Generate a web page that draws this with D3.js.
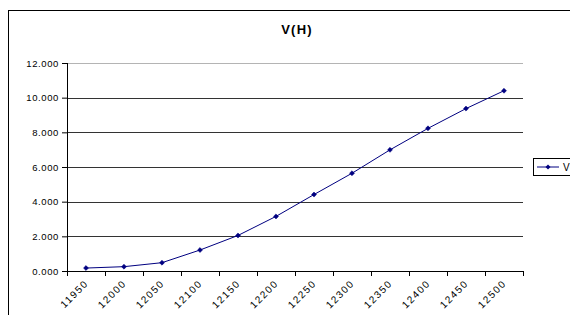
<!DOCTYPE html>
<html lang="en">
<head>
    <meta charset="UTF-8">
    <title>V(H)</title>
    <script src="https://cdn.jsdelivr.net/npm/d3@7"></script>
    <style>
        body { margin: 0; background: #fff; }
        text { font-family: Arial, "Liberation Sans", sans-serif; }
    </style>
</head>
<body>
    <svg width="570" height="315" id="mainsvg"></svg>
    <script>
        // data
        const heights = ['11950', '12000', '12050', '12100', '12150', '12200', '12250', '12300', '12350', '12400', '12450', '12500'];
        const volumes = [0.17, 0.25, 0.48, 1.21, 2.05, 3.15, 4.41, 5.64, 6.99, 8.23, 9.37, 10.40];
        const yTicks = [0, 2, 4, 6, 8, 10, 12];
        const title = 'V(H)';
        const seriesName = 'V(H)';

        const svg = d3.select('#mainsvg');
        const margin = { top: 63, left: 67, right: 47, bottom: 44 };
        const width = +svg.attr('width');
        const height = +svg.attr('height');
        const innerWidth = width - margin.left - margin.right;
        const innerHeight = height - margin.top - margin.bottom;
        const navy = '#000080';

        // chart frame
        svg.append('rect')
            .attr('x', 8.5).attr('y', 10.5)
            .attr('width', 600).attr('height', 400)
            .attr('fill', '#fff').attr('stroke', '#000');

        svg.append('text').text(title)
            .attr('x', 297).attr('y', 34)
            .attr('text-anchor', 'middle')
            .attr('font-weight', 'bold')
            .attr('font-size', '13px')
            .attr('letter-spacing', '1.2px');

        const g = svg.append('g')
            .attr('transform', `translate(${margin.left},${margin.top})`);

        const xScale = d3.scaleBand()
            .domain(heights)
            .range([0, innerWidth]);
        const yScale = d3.scaleLinear()
            .domain([0, 12])
            .range([innerHeight, 0]);

        // gridlines
        g.selectAll('.grid').data(yTicks.filter(d => d > 0)).enter()
            .append('line')
            .attr('x1', 0).attr('x2', innerWidth)
            .attr('y1', d => Math.round(yScale(d)) + 0.5)
            .attr('y2', d => Math.round(yScale(d)) + 0.5)
            .attr('stroke', d => d === 12 ? '#b4b4b4' : '#333')
            .attr('stroke-width', 1.2);

        // y axis
        const yAxis = d3.axisLeft(yScale)
            .tickValues(yTicks)
            .tickSize(5)
            .tickPadding(3)
            .tickFormat(d3.format('.3f'));
        const yg = g.append('g').call(yAxis);
        yg.select('.domain').attr('stroke', '#000').attr('d', `M0.5,0V${innerHeight}`);
        yg.selectAll('.tick line').attr('stroke', '#000');
        yg.selectAll('.tick text')
            .attr('font-size', '9.5px')
            .attr('letter-spacing', '0.6px')
            .attr('fill', '#000')
            .attr('font-family', 'Arial, "Liberation Sans", sans-serif');

        // x axis, ticks at category boundaries
        const xg = g.append('g').attr('transform', `translate(0,${innerHeight})`);
        xg.append('line')
            .attr('x1', 0).attr('x2', innerWidth)
            .attr('y1', 0.5).attr('y2', 0.5)
            .attr('stroke', '#000');
        const bounds = heights.map(d => xScale(d)).concat([innerWidth]);
        xg.selectAll('.xtick').data(bounds).enter()
            .append('line')
            .attr('x1', d => Math.round(d) + 0.5).attr('x2', d => Math.round(d) + 0.5)
            .attr('y1', 0).attr('y2', 5)
            .attr('stroke', '#000');
        xg.selectAll('.xlabel').data(heights).enter()
            .append('text')
            .text(d => d)
            .attr('font-size', '10px')
            .attr('letter-spacing', '1.5px')
            .attr('text-anchor', 'end')
            .attr('transform', d => `translate(${xScale(d) + xScale.bandwidth() / 2 + 3},${13}) rotate(-45)`);

        // series
        const line = d3.line()
            .x((d, i) => xScale(heights[i]) + xScale.bandwidth() / 2)
            .y(d => yScale(d));
        g.append('path')
            .datum(volumes)
            .attr('d', line)
            .attr('fill', 'none')
            .attr('stroke', navy)
            .attr('stroke-width', 1);
        const diamond = d3.symbol().type(d3.symbolDiamond2).size(16);
        g.selectAll('.pt').data(volumes).enter()
            .append('path')
            .attr('d', diamond)
            .attr('fill', navy)
            .attr('stroke', navy)
            .attr('stroke-width', 0.5)
            .attr('transform', (d, i) => `translate(${xScale(heights[i]) + xScale.bandwidth() / 2},${yScale(d)})`);

        // legend, cut by the right edge
        const lg = svg.append('g').attr('transform', 'translate(533,158)');
        lg.append('rect')
            .attr('x', 0.5).attr('y', 0.5)
            .attr('width', 120).attr('height', 17)
            .attr('fill', '#fff').attr('stroke', '#000');
        lg.append('line')
            .attr('x1', 4).attr('x2', 26)
            .attr('y1', 9).attr('y2', 9)
            .attr('stroke', navy);
        lg.append('path')
            .attr('d', diamond)
            .attr('fill', navy)
            .attr('transform', 'translate(15,9)');
        lg.append('text').text(seriesName)
            .attr('x', 30).attr('y', 12.5)
            .attr('font-size', '10px');
    </script>
</body>
</html>
